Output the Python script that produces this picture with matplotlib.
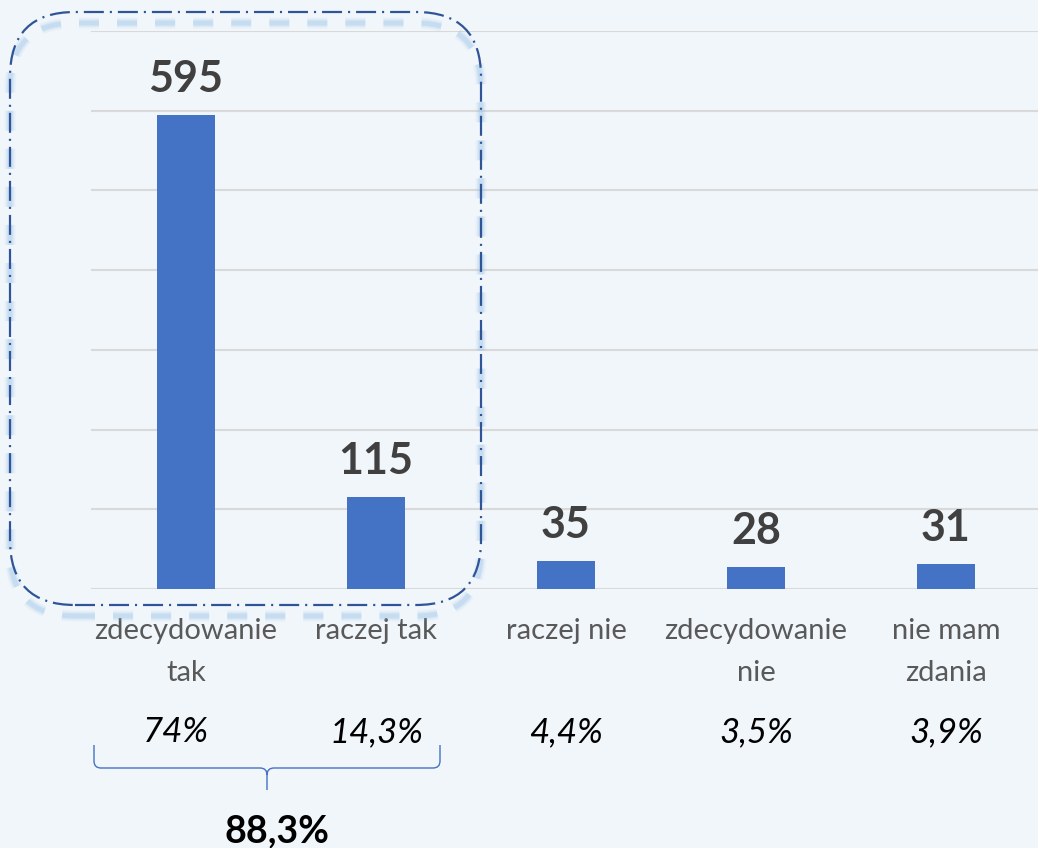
import matplotlib
matplotlib.use("Agg")
import matplotlib.pyplot as plt
from matplotlib.patches import FancyBboxPatch, PathPatch
from matplotlib.path import Path

# dane z wykresu
kategorie = ["zdecydowanie\ntak", "raczej tak", "raczej nie", "zdecydowanie\nnie", "nie mam\nzdania"]
liczby = [595, 115, 35, 28, 31]
procenty = ["74%", "14,3%", "4,4%", "3,5%", "3,9%"]
suma_tak = "88,3%"

plt.rcParams['font.family'] = ['Lato', 'DejaVu Sans']

tlo = '#F1F6FB'
fig = plt.figure(figsize=(10.38, 8.48), dpi=100, facecolor=tlo)
ax = fig.add_axes([91/1038, 259/848, 950/1038, 558/848])
ax.set_facecolor(tlo)

x = range(len(kategorie))
ax.bar(x, liczby, width=0.31, color='#4472C4', zorder=3)
ax.set_xlim(-0.5, 4.5)
ax.set_ylim(0, 700)
ax.set_yticks(range(0, 701, 100))
ax.yaxis.grid(True, color='#D9D9D9', linewidth=1.5, zorder=0)
ax.tick_params(left=False, bottom=False, labelleft=False, labelbottom=False)
for s in ax.spines.values():
    s.set_visible(False)

for i, v in enumerate(liczby):
    ax.annotate(str(v), xy=(i, v), xytext=(0, 16.5), textcoords='offset points',
                ha='center', va='baseline', fontsize=31, fontweight='bold', color='#404040')
    ax.annotate(kategorie[i], xy=(i, 0), xytext=(0, -21), textcoords='offset points',
                ha='center', va='top', fontsize=21, color='#595959',
                linespacing=1.75, multialignment='center')
    przes = -7 if i == 0 else 0
    ax.annotate(procenty[i], xy=(i, 0), xytext=(przes, -110), textcoords='offset points',
                ha='center', va='baseline', fontsize=25, style='italic', color='black')

fig.text(2.77 / 10.38, 0.06 / 8.48, suma_tak, ha='center', va='baseline',
         fontsize=27, fontweight='bold', color='black')

# ramka zaokraglona (cale)
tr = fig.dpi_scale_trans
rr = 0.65
bx, by, bw, bh = 0.10, 2.43, 4.71, 5.93
for szer, alfa in [(8, 0.10), (5.5, 0.15), (3.5, 0.25)]:
    cien = FancyBboxPatch((bx + rr, by - 0.11 + rr), bw - 2 * rr, bh - 2 * rr,
                          boxstyle="round,pad=%s" % rr, transform=tr, fill=False,
                          edgecolor='#8FBCE6', linewidth=szer, alpha=alfa,
                          linestyle=(0, (14.4 / szer, 13 / szer)))
    fig.patches.append(cien)
lw = 1.6
ramka = FancyBboxPatch((bx + rr, by + rr), bw - 2 * rr, bh - 2 * rr,
                       boxstyle="round,pad=%s" % rr, transform=tr, fill=False,
                       edgecolor='#2F5597', linewidth=lw,
                       linestyle=(0, (14.4 / lw, 4.3 / lw, 1.5 / lw, 4.3 / lw)))
fig.patches.append(ramka)

# klamra
xl, xr, xm = 0.94, 4.40, 2.67
yt, yh, yb = 1.03, 0.80, 0.58
r = 0.07
wierzch = [(xl, yt), (xl, yh + r), (xl, yh), (xl + r, yh), (xm - r, yh), (xm, yh), (xm, yh - r),
           (xm, yb), (xm, yh - r), (xm, yh), (xm + r, yh), (xr - r, yh), (xr, yh), (xr, yh + r), (xr, yt)]
kody = [Path.MOVETO, Path.LINETO, Path.CURVE3, Path.CURVE3, Path.LINETO, Path.CURVE3, Path.CURVE3,
        Path.LINETO, Path.MOVETO, Path.CURVE3, Path.CURVE3, Path.LINETO, Path.CURVE3, Path.CURVE3, Path.LINETO]
klamra = PathPatch(Path(wierzch, kody), transform=tr, fill=False, edgecolor='#4472C4', linewidth=1)
fig.patches.append(klamra)

fig.savefig('out.png', dpi=100, facecolor=tlo)
